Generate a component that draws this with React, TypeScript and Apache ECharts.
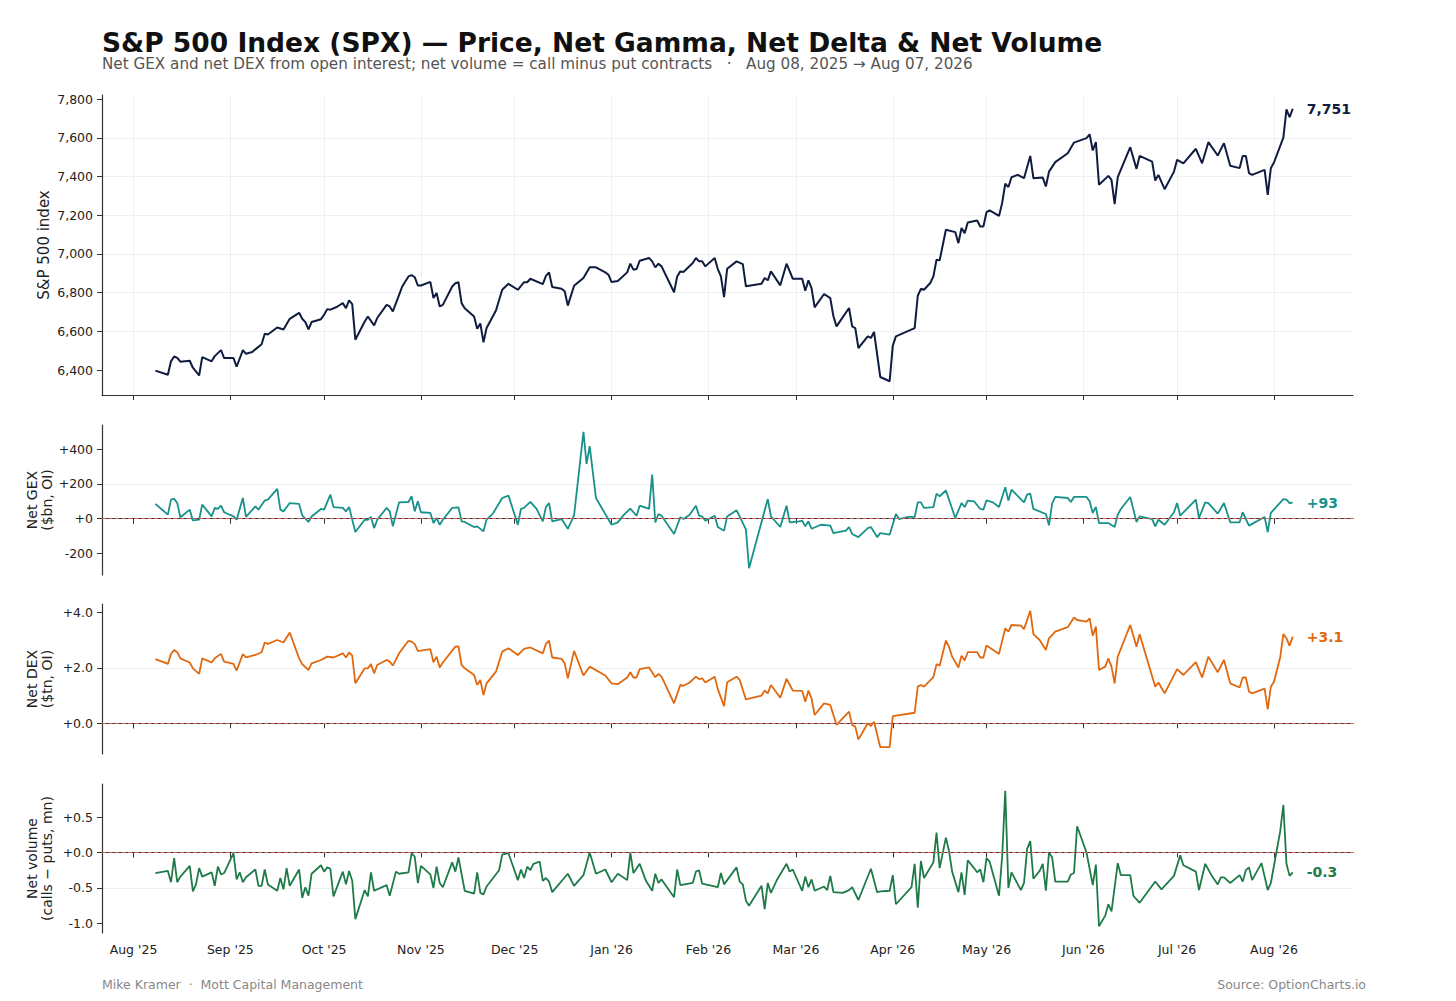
import React, { useEffect, useRef } from "react";
import * as echarts from "echarts";

const monthTicks = [
  "2025-08-01", "2025-09-01", "2025-10-01", "2025-11-01", "2025-12-01", "2026-01-01", "2026-02-01",
  "2026-03-01", "2026-04-01", "2026-05-01", "2026-06-01", "2026-07-01", "2026-08-01",
];
const monthNames = ["Jan", "Feb", "Mar", "Apr", "May", "Jun", "Jul", "Aug", "Sep", "Oct", "Nov", "Dec"];

const priceTicks = [6400, 6600, 6800, 7000, 7200, 7400, 7600, 7800];
const gexTicks = [-200, 0, 200, 400];
const dexTicks = [0, 2, 4];
const volTicks = [-1, -0.5, 0, 0.5];

// SPX close
const priceSeries: [string, number][] = [
  ["2025-08-08", 6397], ["2025-08-12", 6376], ["2025-08-13", 6445], ["2025-08-14", 6470], ["2025-08-15", 6463],
  ["2025-08-16", 6443], ["2025-08-19", 6448], ["2025-08-20", 6412], ["2025-08-22", 6372], ["2025-08-23", 6467],
  ["2025-08-26", 6445], ["2025-08-27", 6472], ["2025-08-29", 6503], ["2025-08-30", 6462], ["2025-09-02", 6462],
  ["2025-09-03", 6417], ["2025-09-05", 6503], ["2025-09-06", 6484], ["2025-09-08", 6493], ["2025-09-09", 6507],
  ["2025-09-11", 6533], ["2025-09-12", 6588], ["2025-09-13", 6584], ["2025-09-16", 6620], ["2025-09-18", 6610],
  ["2025-09-20", 6665], ["2025-09-23", 6696], ["2025-09-24", 6665], ["2025-09-25", 6648], ["2025-09-26", 6610],
  ["2025-09-27", 6648], ["2025-09-30", 6663], ["2025-10-01", 6686], ["2025-10-02", 6715], ["2025-10-03", 6712],
  ["2025-10-05", 6726], ["2025-10-07", 6746], ["2025-10-08", 6720], ["2025-10-09", 6760], ["2025-10-10", 6741],
  ["2025-10-11", 6557], ["2025-10-14", 6651], ["2025-10-15", 6677], ["2025-10-17", 6631], ["2025-10-18", 6669],
  ["2025-10-21", 6737], ["2025-10-22", 6729], ["2025-10-23", 6703], ["2025-10-25", 6789], ["2025-10-26", 6832],
  ["2025-10-28", 6884], ["2025-10-29", 6891], ["2025-10-30", 6880], ["2025-10-31", 6837], ["2025-11-01", 6837],
  ["2025-11-04", 6856], ["2025-11-05", 6772], ["2025-11-06", 6798], ["2025-11-07", 6729], ["2025-11-08", 6737],
  ["2025-11-11", 6832], ["2025-11-12", 6849], ["2025-11-13", 6854], ["2025-11-14", 6746], ["2025-11-15", 6720],
  ["2025-11-18", 6677], ["2025-11-19", 6613], ["2025-11-20", 6641], ["2025-11-21", 6543], ["2025-11-22", 6617],
  ["2025-11-25", 6708], ["2025-11-27", 6815], ["2025-11-29", 6846], ["2025-12-02", 6815], ["2025-12-04", 6854],
  ["2025-12-05", 6854], ["2025-12-06", 6872], ["2025-12-10", 6844], ["2025-12-11", 6887], ["2025-12-12", 6904],
  ["2025-12-13", 6829], ["2025-12-16", 6820], ["2025-12-17", 6807], ["2025-12-18", 6733], ["2025-12-20", 6836],
  ["2025-12-23", 6876], ["2025-12-25", 6931], ["2025-12-27", 6931], ["2025-12-30", 6905], ["2025-12-31", 6893],
  ["2026-01-01", 6855], ["2026-01-03", 6860], ["2026-01-06", 6905], ["2026-01-07", 6950], ["2026-01-08", 6919],
  ["2026-01-09", 6922], ["2026-01-10", 6965], ["2026-01-13", 6979], ["2026-01-14", 6962], ["2026-01-15", 6931],
  ["2026-01-16", 6950], ["2026-01-17", 6936], ["2026-01-21", 6802], ["2026-01-22", 6884], ["2026-01-23", 6910],
  ["2026-01-24", 6907], ["2026-01-27", 6953], ["2026-01-28", 6979], ["2026-01-29", 6962], ["2026-01-30", 6962],
  ["2026-01-31", 6936], ["2026-02-03", 6979], ["2026-02-04", 6922], ["2026-02-05", 6884], ["2026-02-06", 6777],
  ["2026-02-07", 6924], ["2026-02-10", 6962], ["2026-02-12", 6948], ["2026-02-13", 6833], ["2026-02-18", 6846],
  ["2026-02-19", 6876], ["2026-02-20", 6864], ["2026-02-21", 6910], ["2026-02-24", 6838], ["2026-02-26", 6950],
  ["2026-02-28", 6872], ["2026-03-03", 6872], ["2026-03-04", 6810], ["2026-03-05", 6864], ["2026-03-06", 6824],
  ["2026-03-07", 6724], ["2026-03-10", 6793], ["2026-03-12", 6772], ["2026-03-13", 6678], ["2026-03-14", 6626],
  ["2026-03-18", 6721], ["2026-03-19", 6626], ["2026-03-20", 6617], ["2026-03-21", 6514], ["2026-03-24", 6574],
  ["2026-03-25", 6566], ["2026-03-26", 6597], ["2026-03-28", 6364], ["2026-03-31", 6342], ["2026-04-01", 6526],
  ["2026-04-02", 6574], ["2026-04-08", 6617], ["2026-04-09", 6784], ["2026-04-10", 6820], ["2026-04-11", 6815],
  ["2026-04-13", 6850], ["2026-04-14", 6884], ["2026-04-15", 6970], ["2026-04-16", 6967], ["2026-04-18", 7125],
  ["2026-04-21", 7113], ["2026-04-22", 7056], ["2026-04-23", 7134], ["2026-04-24", 7108], ["2026-04-25", 7163],
  ["2026-04-28", 7173], ["2026-04-29", 7142], ["2026-04-30", 7142], ["2026-05-01", 7216], ["2026-05-02", 7225],
  ["2026-05-05", 7197], ["2026-05-06", 7263], ["2026-05-07", 7363], ["2026-05-08", 7346], ["2026-05-09", 7397],
  ["2026-05-11", 7409], ["2026-05-13", 7392], ["2026-05-15", 7507], ["2026-05-16", 7392], ["2026-05-19", 7395],
  ["2026-05-20", 7349], ["2026-05-21", 7426], ["2026-05-23", 7475], ["2026-05-27", 7521], ["2026-05-29", 7576],
  ["2026-06-02", 7599], ["2026-06-03", 7619], ["2026-06-04", 7535], ["2026-06-05", 7578], ["2026-06-06", 7358],
  ["2026-06-09", 7404], ["2026-06-10", 7383], ["2026-06-11", 7258], ["2026-06-12", 7397], ["2026-06-16", 7552],
  ["2026-06-18", 7440], ["2026-06-19", 7507], ["2026-06-23", 7478], ["2026-06-24", 7380], ["2026-06-25", 7409],
  ["2026-06-27", 7335], ["2026-06-30", 7426], ["2026-07-01", 7487], ["2026-07-03", 7469], ["2026-07-07", 7544],
  ["2026-07-09", 7469], ["2026-07-11", 7578], ["2026-07-14", 7509], ["2026-07-16", 7573], ["2026-07-18", 7456],
  ["2026-07-21", 7444], ["2026-07-22", 7507], ["2026-07-23", 7507], ["2026-07-24", 7418], ["2026-07-25", 7409],
  ["2026-07-29", 7435], ["2026-07-30", 7306], ["2026-07-31", 7444], ["2026-08-01", 7473], ["2026-08-04", 7602],
  ["2026-08-05", 7748], ["2026-08-06", 7707], ["2026-08-07", 7751],
];

// net gamma exposure, $bn
const gexSeries: [string, number][] = [
  ["2025-08-08", 85], ["2025-08-12", 23], ["2025-08-13", 110], ["2025-08-14", 115], ["2025-08-15", 90],
  ["2025-08-16", 8], ["2025-08-19", 52], ["2025-08-20", -10], ["2025-08-22", -6], ["2025-08-23", 81],
  ["2025-08-26", 13], ["2025-08-27", 62], ["2025-08-28", 56], ["2025-08-29", 75], ["2025-08-30", 37],
  ["2025-09-02", 13], ["2025-09-03", -6], ["2025-09-05", 119], ["2025-09-06", 10], ["2025-09-09", 71],
  ["2025-09-10", 52], ["2025-09-12", 104], ["2025-09-13", 110], ["2025-09-16", 171], ["2025-09-17", 52],
  ["2025-09-18", 42], ["2025-09-20", 90], ["2025-09-23", 85], ["2025-09-24", 19], ["2025-09-26", -19],
  ["2025-09-27", 13], ["2025-09-30", 56], ["2025-10-01", 52], ["2025-10-03", 138], ["2025-10-04", 67],
  ["2025-10-07", 62], ["2025-10-08", 42], ["2025-10-09", 67], ["2025-10-11", -77], ["2025-10-14", -6],
  ["2025-10-15", -6], ["2025-10-16", 10], ["2025-10-17", -54], ["2025-10-18", -6], ["2025-10-21", 62],
  ["2025-10-22", 42], ["2025-10-23", -44], ["2025-10-25", 94], ["2025-10-28", 96], ["2025-10-29", 129],
  ["2025-10-30", 42], ["2025-10-31", 100], ["2025-11-01", 37], ["2025-11-04", 33], ["2025-11-05", -25],
  ["2025-11-06", 4], ["2025-11-07", -35], ["2025-11-08", -6], ["2025-11-11", 62], ["2025-11-13", 65],
  ["2025-11-14", -15], ["2025-11-15", -19], ["2025-11-18", -48], ["2025-11-19", -44], ["2025-11-21", -73],
  ["2025-11-22", -6], ["2025-11-24", 29], ["2025-11-27", 119], ["2025-11-29", 133], ["2025-12-02", -35],
  ["2025-12-03", 56], ["2025-12-04", 62], ["2025-12-06", 97], ["2025-12-08", 56], ["2025-12-10", -15],
  ["2025-12-11", 67], ["2025-12-12", 90], ["2025-12-13", -15], ["2025-12-16", -2], ["2025-12-18", -58],
  ["2025-12-20", 19], ["2025-12-23", 500], ["2025-12-24", 315], ["2025-12-25", 417], ["2025-12-27", 119],
  ["2026-01-01", -35], ["2026-01-03", -21], ["2026-01-05", 23], ["2026-01-07", 58], ["2026-01-09", 17],
  ["2026-01-10", 75], ["2026-01-13", 56], ["2026-01-14", 254], ["2026-01-15", -21], ["2026-01-16", 27],
  ["2026-01-17", 17], ["2026-01-21", -88], ["2026-01-23", 8], ["2026-01-24", -2], ["2026-01-26", 23],
  ["2026-01-28", 75], ["2026-01-29", 17], ["2026-01-30", 13], ["2026-01-31", -12], ["2026-02-03", 17],
  ["2026-02-04", -48], ["2026-02-06", -69], ["2026-02-07", 13], ["2026-02-10", 48], ["2026-02-11", 13],
  ["2026-02-13", -63], ["2026-02-14", -285], ["2026-02-20", 113], ["2026-02-21", 13], ["2026-02-24", -48],
  ["2026-02-26", 75], ["2026-02-27", -21], ["2026-03-02", -15], ["2026-03-03", -12], ["2026-03-04", -44],
  ["2026-03-05", -15], ["2026-03-06", -58], ["2026-03-09", -35], ["2026-03-12", -40], ["2026-03-13", -83],
  ["2026-03-17", -69], ["2026-03-18", -48], ["2026-03-19", -88], ["2026-03-21", -106], ["2026-03-24", -54],
  ["2026-03-25", -48], ["2026-03-27", -106], ["2026-03-28", -83], ["2026-03-31", -92], ["2026-04-02", 27],
  ["2026-04-03", -2], ["2026-04-06", 10], ["2026-04-08", 10], ["2026-04-09", 94], ["2026-04-10", 94],
  ["2026-04-11", 62], ["2026-04-14", 67], ["2026-04-15", 144], ["2026-04-16", 129], ["2026-04-18", 162],
  ["2026-04-19", 110], ["2026-04-21", 4], ["2026-04-23", 90], ["2026-04-24", 67], ["2026-04-25", 104],
  ["2026-04-27", 100], ["2026-04-29", 56], ["2026-04-30", 52], ["2026-05-01", 106], ["2026-05-03", 94],
  ["2026-05-05", 67], ["2026-05-07", 181], ["2026-05-08", 104], ["2026-05-09", 167], ["2026-05-13", 94],
  ["2026-05-14", 138], ["2026-05-15", 144], ["2026-05-16", 56], ["2026-05-20", 27], ["2026-05-21", -38],
  ["2026-05-22", 87], ["2026-05-23", 125], ["2026-05-27", 119], ["2026-05-28", 96], ["2026-05-29", 125],
  ["2026-06-02", 125], ["2026-06-03", 100], ["2026-06-04", 33], ["2026-06-05", 67], ["2026-06-06", -25],
  ["2026-06-09", -25], ["2026-06-11", -48], ["2026-06-12", 23], ["2026-06-13", 56], ["2026-06-16", 125],
  ["2026-06-18", -19], ["2026-06-19", 13], ["2026-06-23", -2], ["2026-06-24", -44], ["2026-06-25", -6],
  ["2026-06-27", -35], ["2026-06-30", 37], ["2026-07-01", 90], ["2026-07-02", 17], ["2026-07-07", 110],
  ["2026-07-08", 4], ["2026-07-10", 94], ["2026-07-11", 90], ["2026-07-14", 29], ["2026-07-16", 90],
  ["2026-07-18", -21], ["2026-07-21", -21], ["2026-07-22", 37], ["2026-07-24", -40], ["2026-07-29", 10],
  ["2026-07-30", -77], ["2026-07-31", 33], ["2026-08-04", 113], ["2026-08-05", 110], ["2026-08-06", 90],
  ["2026-08-07", 93],
];

// net delta exposure, $tn
const dexSeries: [string, number][] = [
  ["2025-08-08", 2.31], ["2025-08-12", 2.14], ["2025-08-13", 2.5], ["2025-08-14", 2.64], ["2025-08-15", 2.56],
  ["2025-08-16", 2.34], ["2025-08-19", 2.19], ["2025-08-20", 1.98], ["2025-08-22", 1.78], ["2025-08-23", 2.34],
  ["2025-08-26", 2.19], ["2025-08-27", 2.34], ["2025-08-29", 2.5], ["2025-08-30", 2.22], ["2025-09-02", 2.14],
  ["2025-09-03", 1.9], ["2025-09-05", 2.49], ["2025-09-06", 2.37], ["2025-09-09", 2.46], ["2025-09-11", 2.56],
  ["2025-09-12", 2.91], ["2025-09-13", 2.86], ["2025-09-16", 3.0], ["2025-09-18", 2.91], ["2025-09-20", 3.27],
  ["2025-09-23", 2.34], ["2025-09-24", 2.13], ["2025-09-26", 1.92], ["2025-09-27", 2.16], ["2025-09-30", 2.28],
  ["2025-10-02", 2.4], ["2025-10-04", 2.37], ["2025-10-07", 2.52], ["2025-10-08", 2.37], ["2025-10-09", 2.55],
  ["2025-10-10", 2.44], ["2025-10-11", 1.44], ["2025-10-14", 1.98], ["2025-10-15", 1.98], ["2025-10-16", 2.13],
  ["2025-10-17", 1.8], ["2025-10-18", 2.1], ["2025-10-21", 2.28], ["2025-10-22", 2.22], ["2025-10-23", 2.08],
  ["2025-10-25", 2.52], ["2025-10-28", 2.97], ["2025-10-29", 2.94], ["2025-10-30", 2.85], ["2025-10-31", 2.61],
  ["2025-11-01", 2.62], ["2025-11-04", 2.67], ["2025-11-05", 2.2], ["2025-11-06", 2.4], ["2025-11-07", 2.01],
  ["2025-11-08", 2.19], ["2025-11-12", 2.76], ["2025-11-13", 2.77], ["2025-11-14", 2.1], ["2025-11-15", 1.98],
  ["2025-11-18", 1.74], ["2025-11-19", 1.38], ["2025-11-20", 1.56], ["2025-11-21", 1.02], ["2025-11-22", 1.44],
  ["2025-11-25", 1.86], ["2025-11-27", 2.58], ["2025-11-29", 2.7], ["2025-12-02", 2.46], ["2025-12-04", 2.68],
  ["2025-12-06", 2.73], ["2025-12-10", 2.52], ["2025-12-11", 2.86], ["2025-12-12", 2.98], ["2025-12-13", 2.37],
  ["2025-12-16", 2.32], ["2025-12-17", 2.16], ["2025-12-18", 1.62], ["2025-12-20", 2.61], ["2025-12-23", 1.72],
  ["2025-12-25", 2.04], ["2025-12-30", 1.72], ["2026-01-01", 1.44], ["2026-01-03", 1.41], ["2026-01-06", 1.65],
  ["2026-01-07", 1.84], ["2026-01-08", 1.65], ["2026-01-09", 1.65], ["2026-01-10", 1.95], ["2026-01-13", 2.01],
  ["2026-01-15", 1.66], ["2026-01-16", 1.78], ["2026-01-17", 1.68], ["2026-01-21", 0.72], ["2026-01-23", 1.38],
  ["2026-01-24", 1.35], ["2026-01-26", 1.47], ["2026-01-28", 1.68], ["2026-01-29", 1.59], ["2026-01-30", 1.62],
  ["2026-01-31", 1.47], ["2026-02-03", 1.68], ["2026-02-04", 1.23], ["2026-02-06", 0.62], ["2026-02-07", 1.48],
  ["2026-02-10", 1.68], ["2026-02-11", 1.56], ["2026-02-13", 0.86], ["2026-02-18", 1.0], ["2026-02-19", 1.18],
  ["2026-02-20", 1.08], ["2026-02-21", 1.38], ["2026-02-24", 0.92], ["2026-02-26", 1.6], ["2026-02-28", 1.18],
  ["2026-03-03", 1.17], ["2026-03-04", 0.78], ["2026-03-05", 1.18], ["2026-03-06", 0.9], ["2026-03-07", 0.3],
  ["2026-03-10", 0.72], ["2026-03-12", 0.66], ["2026-03-14", -0.06], ["2026-03-18", 0.42], ["2026-03-19", -0.06],
  ["2026-03-20", -0.12], ["2026-03-21", -0.58], ["2026-03-24", 0.0], ["2026-03-25", -0.1], ["2026-03-26", 0.06],
  ["2026-03-28", -0.86], ["2026-03-31", -0.86], ["2026-04-01", 0.26], ["2026-04-02", 0.28], ["2026-04-08", 0.38],
  ["2026-04-09", 1.32], ["2026-04-10", 1.38], ["2026-04-11", 1.32], ["2026-04-14", 1.66], ["2026-04-15", 2.13],
  ["2026-04-16", 2.07], ["2026-04-18", 2.98], ["2026-04-19", 2.76], ["2026-04-20", 2.4], ["2026-04-22", 2.01],
  ["2026-04-23", 2.43], ["2026-04-24", 2.26], ["2026-04-25", 2.56], ["2026-04-28", 2.56], ["2026-04-29", 2.37],
  ["2026-04-30", 2.37], ["2026-05-01", 2.8], ["2026-05-05", 2.5], ["2026-05-07", 3.42], ["2026-05-08", 3.3],
  ["2026-05-09", 3.54], ["2026-05-12", 3.52], ["2026-05-13", 3.39], ["2026-05-15", 4.05], ["2026-05-16", 3.21],
  ["2026-05-18", 3.0], ["2026-05-20", 2.64], ["2026-05-21", 3.06], ["2026-05-23", 3.3], ["2026-05-27", 3.46],
  ["2026-05-29", 3.81], ["2026-05-30", 3.72], ["2026-06-02", 3.66], ["2026-06-03", 3.78], ["2026-06-04", 3.15],
  ["2026-06-05", 3.48], ["2026-06-06", 1.92], ["2026-06-08", 2.04], ["2026-06-09", 2.34], ["2026-06-10", 2.04],
  ["2026-06-11", 1.44], ["2026-06-12", 2.4], ["2026-06-16", 3.54], ["2026-06-18", 2.76], ["2026-06-19", 3.21],
  ["2026-06-24", 1.32], ["2026-06-25", 1.47], ["2026-06-27", 1.08], ["2026-07-01", 1.95], ["2026-07-03", 1.74],
  ["2026-07-07", 2.2], ["2026-07-09", 1.65], ["2026-07-11", 2.4], ["2026-07-14", 1.84], ["2026-07-16", 2.28],
  ["2026-07-18", 1.44], ["2026-07-21", 1.29], ["2026-07-22", 1.65], ["2026-07-23", 1.65], ["2026-07-24", 1.14],
  ["2026-07-25", 1.08], ["2026-07-29", 1.25], ["2026-07-30", 0.5], ["2026-07-31", 1.32], ["2026-08-01", 1.5],
  ["2026-08-03", 2.38], ["2026-08-04", 3.21], ["2026-08-05", 3.06], ["2026-08-06", 2.79], ["2026-08-07", 3.12],
];

// net volume, calls minus puts, million contracts
const volSeries: [string, number][] = [
  ["2025-08-08", -0.29], ["2025-08-12", -0.26], ["2025-08-13", -0.42], ["2025-08-14", -0.08], ["2025-08-15", -0.42],
  ["2025-08-16", -0.34], ["2025-08-19", -0.19], ["2025-08-20", -0.55], ["2025-08-21", -0.45], ["2025-08-22", -0.22],
  ["2025-08-23", -0.34], ["2025-08-26", -0.28], ["2025-08-27", -0.47], ["2025-08-28", -0.2], ["2025-08-29", -0.31],
  ["2025-08-30", -0.29], ["2025-09-02", -0.01], ["2025-09-03", -0.38], ["2025-09-04", -0.28], ["2025-09-05", -0.42],
  ["2025-09-06", -0.35], ["2025-09-09", -0.24], ["2025-09-10", -0.47], ["2025-09-11", -0.47], ["2025-09-12", -0.24],
  ["2025-09-13", -0.45], ["2025-09-16", -0.54], ["2025-09-17", -0.36], ["2025-09-18", -0.52], ["2025-09-19", -0.22],
  ["2025-09-20", -0.47], ["2025-09-23", -0.24], ["2025-09-24", -0.64], ["2025-09-25", -0.49], ["2025-09-26", -0.61],
  ["2025-09-27", -0.3], ["2025-09-30", -0.18], ["2025-10-01", -0.27], ["2025-10-02", -0.21], ["2025-10-03", -0.23],
  ["2025-10-04", -0.62], ["2025-10-07", -0.27], ["2025-10-08", -0.45], ["2025-10-09", -0.26], ["2025-10-10", -0.4],
  ["2025-10-11", -0.94], ["2025-10-14", -0.53], ["2025-10-15", -0.62], ["2025-10-16", -0.28], ["2025-10-17", -0.54],
  ["2025-10-21", -0.46], ["2025-10-22", -0.61], ["2025-10-24", -0.27], ["2025-10-25", -0.3], ["2025-10-28", -0.28],
  ["2025-10-29", -0.01], ["2025-10-30", -0.06], ["2025-10-31", -0.43], ["2025-11-01", -0.19], ["2025-11-04", -0.31],
  ["2025-11-05", -0.5], ["2025-11-06", -0.2], ["2025-11-07", -0.43], ["2025-11-08", -0.49], ["2025-11-11", -0.14],
  ["2025-11-12", -0.27], ["2025-11-13", -0.07], ["2025-11-15", -0.54], ["2025-11-18", -0.58], ["2025-11-19", -0.28],
  ["2025-11-20", -0.57], ["2025-11-21", -0.59], ["2025-11-22", -0.48], ["2025-11-26", -0.25], ["2025-11-27", -0.03],
  ["2025-11-29", -0.01], ["2025-12-02", -0.39], ["2025-12-03", -0.24], ["2025-12-04", -0.36], ["2025-12-05", -0.2],
  ["2025-12-06", -0.25], ["2025-12-07", -0.16], ["2025-12-09", -0.13], ["2025-12-10", -0.4], ["2025-12-11", -0.36],
  ["2025-12-12", -0.41], ["2025-12-13", -0.56], ["2025-12-18", -0.3], ["2025-12-20", -0.47], ["2025-12-23", -0.32],
  ["2025-12-25", 0.0], ["2025-12-27", -0.3], ["2025-12-30", -0.24], ["2026-01-01", -0.42], ["2026-01-03", -0.3],
  ["2026-01-06", -0.39], ["2026-01-07", 0.0], ["2026-01-08", -0.29], ["2026-01-10", -0.16], ["2026-01-12", -0.4],
  ["2026-01-14", -0.54], ["2026-01-15", -0.3], ["2026-01-16", -0.43], ["2026-01-17", -0.38], ["2026-01-21", -0.63],
  ["2026-01-22", -0.24], ["2026-01-23", -0.46], ["2026-01-27", -0.43], ["2026-01-28", -0.27], ["2026-01-29", -0.25],
  ["2026-01-30", -0.44], ["2026-02-04", -0.49], ["2026-02-05", -0.29], ["2026-02-06", -0.45], ["2026-02-10", -0.21],
  ["2026-02-11", -0.41], ["2026-02-12", -0.45], ["2026-02-13", -0.68], ["2026-02-14", -0.75], ["2026-02-18", -0.47],
  ["2026-02-19", -0.8], ["2026-02-20", -0.43], ["2026-02-21", -0.57], ["2026-02-23", -0.38], ["2026-02-26", -0.16],
  ["2026-02-27", -0.27], ["2026-02-28", -0.24], ["2026-03-03", -0.54], ["2026-03-04", -0.34], ["2026-03-05", -0.49],
  ["2026-03-06", -0.38], ["2026-03-07", -0.54], ["2026-03-10", -0.48], ["2026-03-11", -0.53], ["2026-03-12", -0.33],
  ["2026-03-13", -0.56], ["2026-03-16", -0.57], ["2026-03-18", -0.53], ["2026-03-19", -0.49], ["2026-03-21", -0.67],
  ["2026-03-25", -0.23], ["2026-03-27", -0.56], ["2026-03-28", -0.55], ["2026-03-31", -0.54], ["2026-04-01", -0.32],
  ["2026-04-02", -0.73], ["2026-04-07", -0.49], ["2026-04-08", -0.16], ["2026-04-09", -0.78], ["2026-04-10", -0.12],
  ["2026-04-11", -0.36], ["2026-04-14", -0.14], ["2026-04-15", 0.28], ["2026-04-16", -0.22], ["2026-04-18", 0.21],
  ["2026-04-19", 0.02], ["2026-04-20", -0.27], ["2026-04-22", -0.56], ["2026-04-23", -0.28], ["2026-04-24", -0.6],
  ["2026-04-25", -0.11], ["2026-04-27", -0.22], ["2026-04-28", -0.28], ["2026-04-29", -0.24], ["2026-04-30", -0.42],
  ["2026-05-01", -0.08], ["2026-05-02", -0.13], ["2026-05-05", -0.61], ["2026-05-06", -0.06], ["2026-05-07", 0.87],
  ["2026-05-08", -0.5], ["2026-05-09", -0.28], ["2026-05-12", -0.53], ["2026-05-13", -0.43], ["2026-05-14", 0.05],
  ["2026-05-15", 0.16], ["2026-05-16", -0.37], ["2026-05-18", -0.26], ["2026-05-19", -0.16], ["2026-05-20", -0.54],
  ["2026-05-21", 0.0], ["2026-05-22", -0.07], ["2026-05-23", -0.41], ["2026-05-27", -0.41], ["2026-05-28", -0.31],
  ["2026-05-29", -0.29], ["2026-05-30", 0.37], ["2026-06-02", 0.0], ["2026-06-04", -0.46], ["2026-06-05", -0.17],
  ["2026-06-06", -1.04], ["2026-06-08", -0.89], ["2026-06-09", -0.73], ["2026-06-10", -0.83], ["2026-06-12", -0.15],
  ["2026-06-13", -0.32], ["2026-06-16", -0.32], ["2026-06-17", -0.61], ["2026-06-19", -0.71], ["2026-06-24", -0.41],
  ["2026-06-26", -0.52], ["2026-06-30", -0.33], ["2026-07-02", -0.04], ["2026-07-03", -0.18], ["2026-07-07", -0.27],
  ["2026-07-08", -0.53], ["2026-07-10", -0.16], ["2026-07-12", -0.32], ["2026-07-14", -0.45], ["2026-07-15", -0.35],
  ["2026-07-16", -0.35], ["2026-07-18", -0.43], ["2026-07-21", -0.32], ["2026-07-22", -0.41], ["2026-07-23", -0.25],
  ["2026-07-24", -0.21], ["2026-07-25", -0.39], ["2026-07-28", -0.15], ["2026-07-30", -0.53], ["2026-07-31", -0.43],
  ["2026-08-03", 0.3], ["2026-08-04", 0.67], ["2026-08-05", -0.16], ["2026-08-06", -0.33], ["2026-08-07", -0.28],
];

const FONT = "DejaVu Sans";
const AXIS_COLOR = "#333333";
const GRID_COLOR = "#eceff3";
const PRICE_COLOR = "#0f1c3f";
const GEX_COLOR = "#17918a";
const DEX_COLOR = "#e0690f";
const VOL_COLOR = "#1e7b48";
const ZERO_COLOR = "#d4625a";
const DAY = 86400000;

// local-time dates, the way ECharts parses them
const toTime = (s: string) => {
  const [y, m, d] = s.split("-").map(Number);
  return new Date(y, m - 1, d).getTime();
};
const toPoints = (rows: [string, number][]) => rows.map(([d, v]) => [toTime(d), v]);

const signed = (v: number, digits: number) => (v < 0 ? "" : "+") + v.toFixed(digits);

const App: React.FC = () => {
  const chartRef = useRef<HTMLDivElement | null>(null);

  useEffect(() => {
    document.body.style.margin = "0";
    if (!chartRef.current) return;
    const chart = echarts.init(chartRef.current, undefined, { renderer: "svg" });

    const monthTimes = monthTicks.map(toTime);
    const xMin = new Date(2025, 6, 21, 22).getTime();
    const xMax = new Date(2026, 7, 26, 7).getTime();
    const left = 102;
    const width = 1251;

    const xAxis = [0, 1, 2, 3].map(i => ({
      type: "time",
      gridIndex: i,
      min: xMin,
      max: xMax,
      splitNumber: 13,
      minInterval: 28 * DAY,
      maxInterval: 31 * DAY,
      axisLine: { show: true, lineStyle: { color: AXIS_COLOR, width: 1.2 } },
      axisTick: { show: true, length: 5, customValues: monthTimes, lineStyle: { color: AXIS_COLOR, width: 1 } },
      axisLabel: {
        show: i === 3,
        showMinLabel: false,
        showMaxLabel: false,
        hideOverlap: false,
        margin: 10,
        color: "#222",
        fontSize: 12.5,
        fontFamily: FONT,
        formatter: (v: number) => {
          const d = new Date(v);
          return `${monthNames[d.getMonth()]} '${String(d.getFullYear()).slice(2)}`;
        },
      },
      splitLine: { show: i === 0, showMinLine: false, showMaxLine: false, lineStyle: { color: GRID_COLOR, width: 1 } },
    }));

    const yBase = (
      i: number,
      min: number,
      max: number,
      splitNumber: number,
      ticks: number[],
      fmt: (v: number) => string,
      name: string,
      nameGap: number,
      nameSize: number,
    ) => ({
      type: "value",
      gridIndex: i,
      min,
      max,
      splitNumber,
      name,
      nameLocation: "middle",
      nameGap,
      nameMoveOverlap: false,
      nameTextStyle: { color: "#222", fontSize: nameSize, fontFamily: FONT, lineHeight: 15 },
      axisLine: { show: true, lineStyle: { color: AXIS_COLOR, width: 1.2 } },
      axisTick: { show: true, length: 5, customValues: ticks, lineStyle: { color: AXIS_COLOR, width: 1 } },
      axisLabel: { customValues: ticks, margin: 9, color: "#222", fontSize: 12.5, fontFamily: FONT, formatter: fmt },
      splitLine: { show: true, showMinLine: false, showMaxLine: false, lineStyle: { color: GRID_COLOR, width: 1 } },
    });

    const zeroLine = {
      silent: true,
      symbol: "none",
      label: { show: false },
      lineStyle: { color: ZERO_COLOR, type: [4, 2.5], width: 1 },
      data: [{ yAxis: 0 }],
    };

    const endLabel = (color: string, fmt: (v: number) => string) => ({
      show: true,
      distance: 14,
      color,
      fontSize: 14,
      fontWeight: "bold",
      fontFamily: FONT,
      formatter: (p: any) => fmt(p.value[1]),
    });

    const textTitle = (text: string, pos: object, size: number, color: string, weight: string) => ({
      text,
      padding: 0,
      ...pos,
      textStyle: { fontSize: size, fontWeight: weight, color, fontFamily: FONT, lineHeight: Math.round(size * 1.05) },
    });

    chart.setOption({
      animation: false,
      backgroundColor: "#ffffff",
      textStyle: { fontFamily: FONT },
      title: [
        textTitle("S&P 500 Index (SPX) — Price, Net Gamma, Net Delta & Net Volume", { left: 102, top: 28 }, 26.5, "#111", "bold"),
        textTitle(
          "Net GEX and net DEX from open interest; net volume = call minus put contracts   ·   Aug 08, 2025 → Aug 07, 2026",
          { left: 102, top: 56 },
          15.2,
          "#555",
          "normal",
        ),
        textTitle("Mike Kramer  ·  Mott Capital Management", { left: 102, top: 978 }, 12.5, "#888", "normal"),
        textTitle("Source: OptionCharts.io", { right: 90, top: 978 }, 12.5, "#888", "normal"),
      ],
      grid: [
        { left, width, top: 95, height: 300 },
        { left, width, top: 425, height: 150 },
        { left, width, top: 604, height: 150 },
        { left, width, top: 784, height: 149 },
      ],
      xAxis,
      yAxis: [
        yBase(0, 6271, 7822, 8, priceTicks, v => v.toLocaleString("en-US"), "S&P 500 index", 51, 15),
        yBase(1, -324, 539, 4, gexTicks, v => signed(v, 0), "Net GEX\n($bn, OI)", 48, 14),
        yBase(2, -1.105, 4.296, 3, dexTicks, v => signed(v, 1), "Net DEX\n($tn, OI)", 48, 14),
        yBase(3, -1.1355, 0.9655, 4, volTicks, v => signed(v, 1), "Net volume\n(calls − puts, mn)", 48, 14),
      ],
      series: [
        {
          type: "line",
          xAxisIndex: 0,
          yAxisIndex: 0,
          data: toPoints(priceSeries),
          showSymbol: false,
          lineStyle: { color: PRICE_COLOR, width: 2 },
          itemStyle: { color: PRICE_COLOR },
          endLabel: endLabel(PRICE_COLOR, v => v.toLocaleString("en-US")),
        },
        {
          type: "line",
          xAxisIndex: 1,
          yAxisIndex: 1,
          data: toPoints(gexSeries),
          showSymbol: false,
          lineStyle: { color: GEX_COLOR, width: 1.8 },
          itemStyle: { color: GEX_COLOR },
          markLine: zeroLine,
          endLabel: endLabel(GEX_COLOR, v => signed(v, 0)),
        },
        {
          type: "line",
          xAxisIndex: 2,
          yAxisIndex: 2,
          data: toPoints(dexSeries),
          showSymbol: false,
          lineStyle: { color: DEX_COLOR, width: 1.8 },
          itemStyle: { color: DEX_COLOR },
          markLine: zeroLine,
          endLabel: endLabel(DEX_COLOR, v => signed(v, 1)),
        },
        {
          type: "line",
          xAxisIndex: 3,
          yAxisIndex: 3,
          data: toPoints(volSeries),
          showSymbol: false,
          lineStyle: { color: VOL_COLOR, width: 1.8 },
          itemStyle: { color: VOL_COLOR },
          markLine: zeroLine,
          endLabel: endLabel(VOL_COLOR, v => signed(v, 1)),
        },
      ],
    });

    return () => {
      chart.dispose();
    };
  }, []);

  return <div ref={chartRef} style={{ width: 1456, height: 1001, background: "#fff" }} />;
};

export default App;
